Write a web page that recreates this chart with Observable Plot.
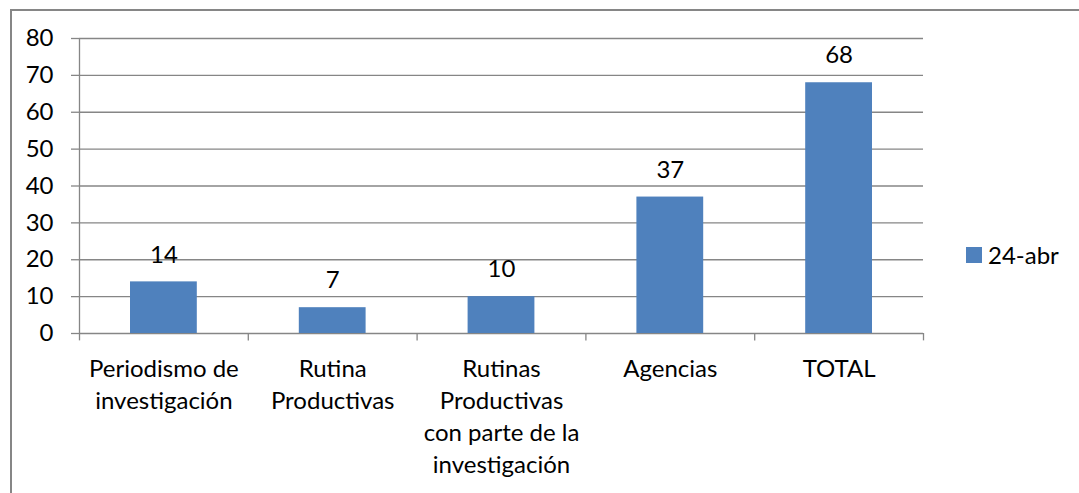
<!DOCTYPE html>
<html>
<head>
<meta charset="utf-8">
<script src="https://cdn.jsdelivr.net/npm/d3@7"></script>
<script src="https://cdn.jsdelivr.net/npm/@observablehq/plot@0.6"></script>
<style>
  html, body { margin: 0; padding: 0; background: #fff; }
  #wrap { position: relative; width: 1079px; height: 493px; overflow: hidden; font-family: Lato, "Open Sans", sans-serif; }
  #frame { position: absolute; left: 10px; top: 9px; width: 1200px; height: 600px; border: 2px solid #868686; box-sizing: border-box; }
  #chart { position: absolute; left: 0; top: 0; }
  #legend { position: absolute; left: 966px; top: 240px; display: flex; align-items: center; font-size: 24px; color: #000; }
  #legend .sw { width: 16px; height: 16px; background: #4F81BD; margin-right: 6px; }
</style>
</head>
<body>
<div id="wrap">
  <div id="frame"></div>
  <div id="chart"></div>
  <div id="legend"><span class="sw"></span><span id="legtext"></span></div>
</div>
<script>
const categories = [
  "Periodismo de\ninvestigación",
  "Rutina\nProductivas",
  "Rutinas\nProductivas\ncon parte de la\ninvestigación",
  "Agencias",
  "TOTAL"
];
const values = [14, 7, 10, 37, 68];
const seriesName = "24-abr";
const yTicks = [0, 10, 20, 30, 40, 50, 60, 70, 80];

const data = categories.map((c, i) => ({cat: c, idx: i, value: values[i]}));
const gridColor = "#868686";
const barColor = "#4F81BD";
const fs = 24;

const plot = Plot.plot({
  width: 1079,
  height: 493,
  marginLeft: 79,
  marginRight: 156,
  marginTop: 38,
  marginBottom: 160,
  style: {fontFamily: "Lato, 'Open Sans', sans-serif", fontSize: fs + "px", color: "#000", background: "transparent"},
  x: {domain: [0, categories.length], axis: null},
  y: {domain: [0, 80], axis: null},
  marks: [
    Plot.ruleY(yTicks, {stroke: gridColor, strokeWidth: 1.3}),
    Plot.ruleX([0], {stroke: gridColor, strokeWidth: 1.3}),
    Plot.axisY({ticks: yTicks, tickSize: 8, tickPadding: 18, stroke: gridColor, strokeWidth: 1.3, strokeOpacity: 1, fill: "#000", fontSize: fs, label: null, tickFormat: d => String(d)}),
    Plot.ruleX(d3.range(categories.length + 1), {x: d => d, y1: 0, y2: -2, stroke: gridColor, strokeWidth: 1.3}),
    Plot.rectY(data, {x1: d => d.idx, x2: d => d.idx + 1, y: "value", fill: barColor, insetLeft: 51, insetRight: 51}),
    Plot.text(data, {x: d => d.idx + 0.5, y: "value", text: d => String(d.value), dy: -27, fontSize: fs, fill: "#000"}),
    Plot.text(data, {x: d => d.idx + 0.5, y: 0, text: "cat", lineAnchor: "top", dy: 21, lineHeight: 1.33, fontSize: fs, fill: "#000"})
  ]
});
document.getElementById("chart").appendChild(plot);
document.getElementById("legtext").textContent = seriesName;
</script>
</body>
</html>
